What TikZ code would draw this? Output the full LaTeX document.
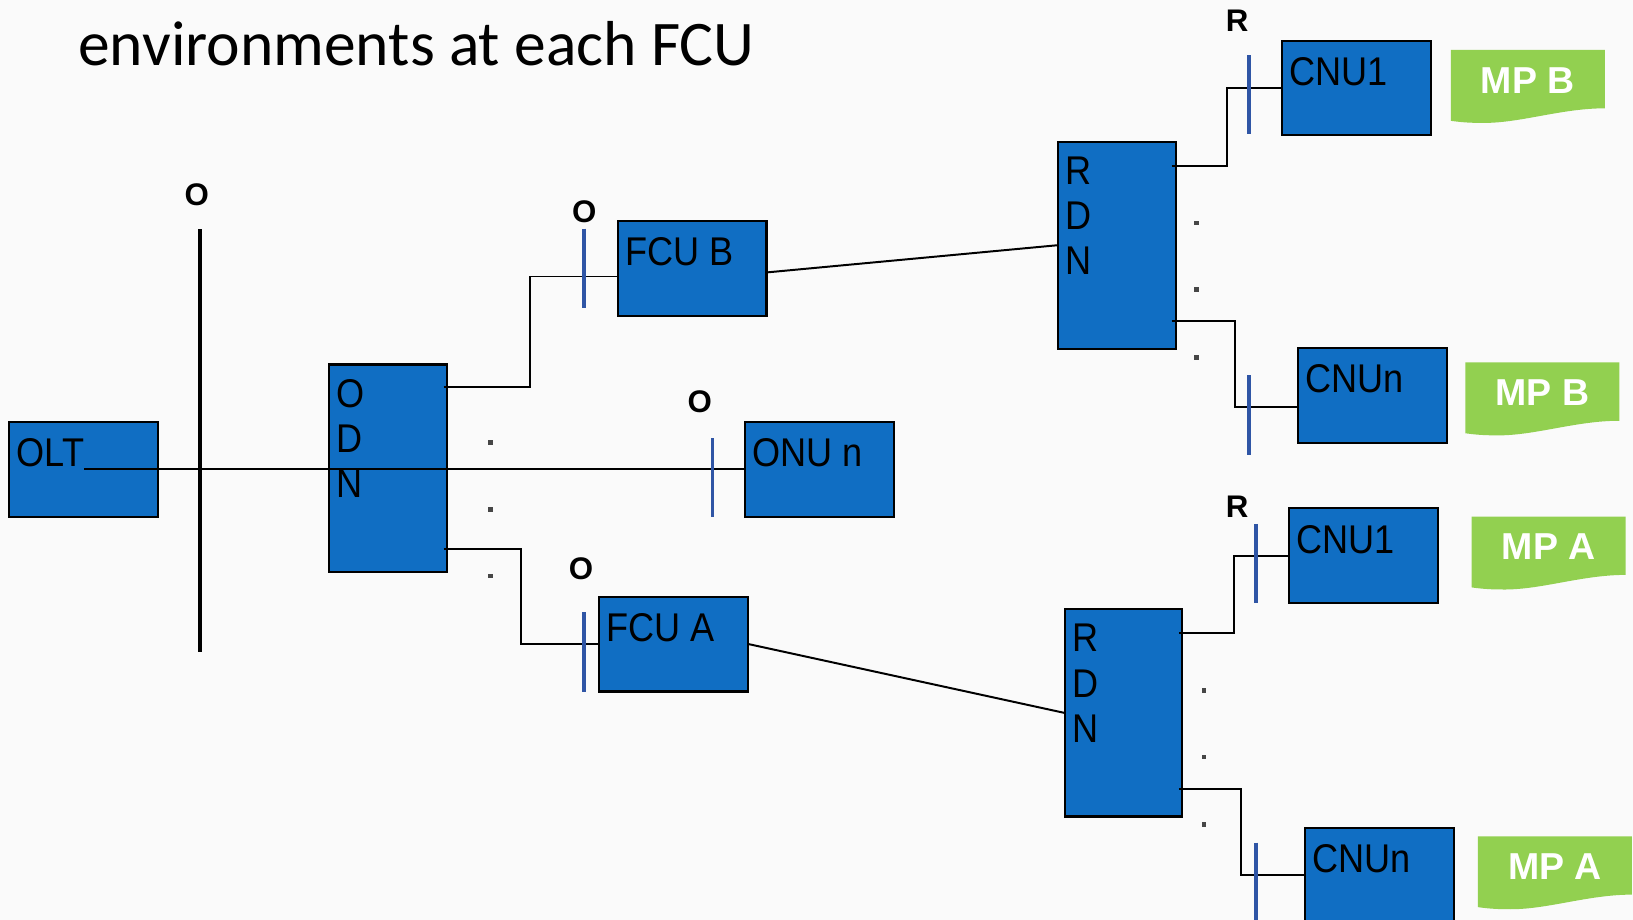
\documentclass[tikz,border=0pt]{standalone}
\usepackage{fontspec}
\setmainfont{Liberation Sans}
\newfontfamily\titlefont{Carlito}
\newfontfamily\boxfont[FakeStretch=0.9]{Liberation Sans}
\usetikzlibrary{calc}

\definecolor{unitblue}{RGB}{16,110,195}
\definecolor{refblue}{RGB}{47,85,165}
\definecolor{taggreen}{RGB}{146,208,80}
\definecolor{dotgray}{RGB}{70,70,70}
\definecolor{paper}{RGB}{250,250,250}

\tikzset{
  unit/.style={draw=black, line width=2pt, fill=unitblue, inner sep=0pt,
    anchor=north west, minimum width=143pt, minimum height=91pt},
  splitter/.style={unit, minimum width=113pt, minimum height=199pt},
  unittext/.style={font=\boxfont\fontsize{38.5}{38.5}\selectfont, anchor=base west,
    inner sep=0pt, text=black},
  link/.style={line width=1.9pt, black},
  bus/.style={line width=4.5pt, black},
  refmark/.style={line width=3.5pt, refblue},
  reflabel/.style={font=\bfseries\fontsize{30}{30}\selectfont, inner sep=0pt},
  tagtext/.style={font=\bfseries\fontsize{36}{36}\selectfont, text=white, inner sep=0pt},
  gap/.style={rectangle, fill=dotgray, minimum size=4.5pt, inner sep=0pt},
}

% green banner with a wavy lower edge: #1 name, #2 left, #3 top, #4 text
\newcommand\mptag[4]{%
  \fill[taggreen] (#2,#3) -- (#2+148,#3) -- (#2+148,#3+56)
    .. controls (#2+105,#3+56) and (#2+65,#3+71) .. (#2+28,#3+70)
    .. controls (#2+16,#3+70) and (#2+7,#3+69) .. (#2,#3+68) -- cycle;
  \node[tagtext] (#1) at (#2+74,#3+29) {#4};
}

\begin{document}
\begin{tikzpicture}[x=1pt, y=-1pt]
\fill[paper] (0,0) rectangle (1568,883);
\useasboundingbox (0,0) rectangle (1568,883);

\node[font=\titlefont\fontsize{61}{61}\selectfont, anchor=base west, inner sep=0pt]
  (title) at (75,63) {environments at each FCU};

% units
\node[unit] (olt) at (8,404) {};
\node[splitter] (odn) at (315,349) {};
\node[unit] (fcub) at (592,211) {};
\node[unit] (onun) at (714,404) {};
\node[unit] (fcua) at (574,572) {};
\node[splitter] (rdnb) at (1015,135) {};
\node[splitter, minimum width=112pt] (rdna) at (1022,584) {};
\node[unit] (cnu1b) at (1230,38) {};
\node[unit] (cnunb) at (1245,333) {};
\node[unit] (cnu1a) at (1237,487) {};
\node[unit] (cnuna) at (1252,794) {};

% unit captions
\node[unittext] (olt-t) at ($(olt.north west)+(8,44)$) {OLT};
\node[unittext] (fcub-t) at ($(fcub.north west)+(8,44)$) {FCU B};
\node[unittext] (onun-t) at ($(onun.north west)+(8,44)$) {ONU n};
\node[unittext] (fcua-t) at ($(fcua.north west)+(8,44)$) {FCU A};
\node[unittext] (cnu1b-t) at ($(cnu1b.north west)+(8,44)$) {CNU1};
\node[unittext] (cnunb-t) at ($(cnunb.north west)+(8,44)$) {CNUn};
\node[unittext] (cnu1a-t) at ($(cnu1a.north west)+(8,44)$) {CNU1};
\node[unittext] (cnuna-t) at ($(cnuna.north west)+(8,44)$) {CNUn};
\foreach \c [count=\i from 0] in {O,D,N}
  \node[unittext] (odn-\i) at ($(odn.north west)+(8,42+43.5*\i)$) {\c};
\foreach \c [count=\i from 0] in {R,D,N}{
  \node[unittext] (rdnb-\i) at ($(rdnb.north west)+(8,42+43.5*\i)$) {\c};
  \node[unittext] (rdna-\i) at ($(rdna.north west)+(8,42+43.5*\i)$) {\c};
}

% trunk through the reference plane
\coordinate (olt-out) at ($(olt.west)+(73,0)$);
\draw[link] (olt-out) -- (onun.west);
\coordinate (bus-top) at (192,220);
\coordinate (bus-bot) at (192,626);
\draw[bus] (bus-top) -- (bus-bot);
\node[reflabel] (bus-o) at (189,187) {O};

% ODN branches
\coordinate (odn-up) at ($(odn.north east)+(-4,23)$);
\coordinate (odn-dn) at ($(odn.north east)+(-4,178)$);
\draw[link] (odn-up) -- ++(83,0) |- ($(fcub.west)+(0,8)$);
\draw[link] (odn-dn) -- ++(74,0) |- (fcua.west);
\draw[link] ($(fcub.east)+(0,4)$) -- (rdnb.west);
\draw[link] (fcua.east) -- (rdna.west);

% RDN branches
\draw[link] ($(rdnb.north east)+(-5,24)$) -- ++(53,0) |- (cnu1b.west);
\draw[link] ($(rdnb.north east)+(-5,173)$) -- ++(61,0) |- ($(cnunb.west)+(0,11)$);
\draw[link] ($(rdna.north east)+(-4,24)$) -- ++(53,0) |- (cnu1a.west);
\draw[link] ($(rdna.north east)+(-4,174)$) -- ++(60,0) |- (cnuna.west);

% reference points
\draw[refmark] ($(fcub.west)+(-31,-38)$) -- ($(fcub.west)+(-31,38)$);
\draw[refmark] ($(onun.west)+(-30,-29.5)$) -- ($(onun.west)+(-30,45.5)$);
\draw[refmark] ($(fcua.west)+(-13,-30.5)$) -- ($(fcua.west)+(-13,45.5)$);
\draw[refmark] ($(cnu1b.west)+(-31,-31.5)$) -- ($(cnu1b.west)+(-31,44.5)$);
\draw[refmark] ($(cnunb.west)+(-46,-19)$) -- ($(cnunb.west)+(-46,57)$);
\draw[refmark] ($(cnu1a.west)+(-31,-30.5)$) -- ($(cnu1a.west)+(-31,45.5)$);
\draw[refmark] ($(cnuna.west)+(-46,-31.5)$) -- ($(cnuna.west)+(-46,48)$);
\node[reflabel] (fcub-o) at (561,203) {O};
\node[reflabel] (onun-o) at (672,386) {O};
\node[reflabel] (fcua-o) at (558,546) {O};
\node[reflabel] (cnu1b-r) at (1188,20) {R};
\node[reflabel] (cnu1a-r) at (1188,487) {R};

% ellipsis dots beside the splitters
\foreach \y [count=\i] in {425,489,553} \node[gap] (odn-gap\i) at (471,\y) {};
\foreach \y [count=\i] in {214,278,343} \node[gap] (rdnb-gap\i) at (1149,\y) {};
\foreach \y [count=\i] in {663,727,792} \node[gap] (rdna-gap\i) at (1156,\y) {};

% management-plane banners
\mptag{mpb1}{1393}{48}{MP B}
\mptag{mpb2}{1407}{348}{MP B}
\mptag{mpa1}{1413}{496}{MP A}
\mptag{mpa2}{1419}{803}{MP A}
\end{tikzpicture}
\end{document}
